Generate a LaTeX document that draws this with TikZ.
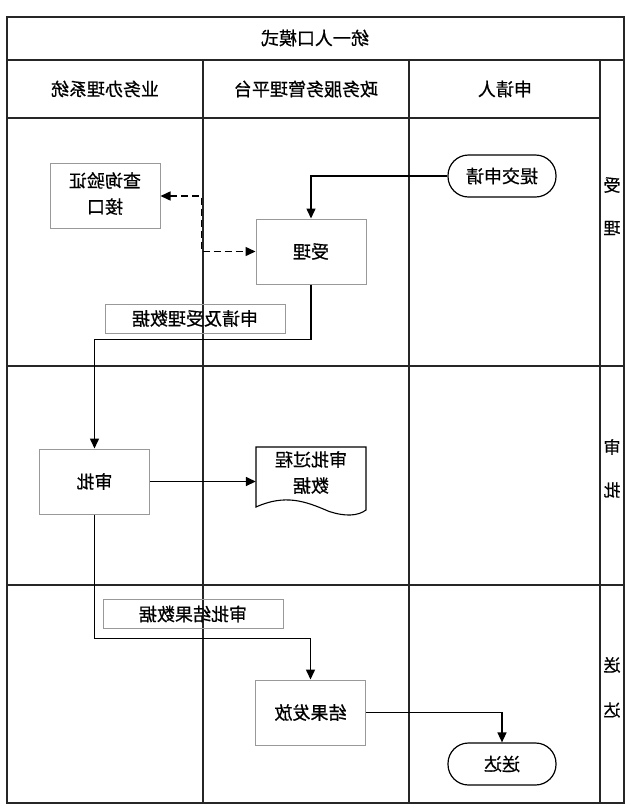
\documentclass[tikz,border=0pt]{standalone}
\usepackage{fontspec}
\usepackage{graphicx}
\newfontfamily\cjk[FakeBold=0.6]{Noto Sans CJK SC}
\usetikzlibrary{arrows.meta}
\newcommand{\mir}[1]{\reflectbox{#1}}
\begin{document}
\begin{tikzpicture}[x=1pt,y=-1pt,
 every node/.style={font=\cjk\fontsize{18}{22}\selectfont, inner sep=0pt},
 box/.style={draw=gray!80, line width=1pt, minimum width=110pt, minimum height=65pt},
 lbl/.style={draw=gray!80, line width=1pt, minimum width=180pt, minimum height=29pt},
 term/.style={draw=black, line width=1.2pt, rounded corners=20.5pt, minimum width=108pt, minimum height=42pt},
 frame/.style={draw=black!85, line width=1.6pt},
 conn/.style={draw=black, line width=1.5pt, -{Triangle[length=10pt,width=9pt]}},
 phase/.style={font=\cjk\fontsize{17}{20}\selectfont},
]
\path[use as bounding box] (0,0) rectangle (630,812);
% frame and lanes
\draw[frame] (7,17) rectangle (624,803);
\draw[frame] (7,60) -- (624,60);
\draw[frame] (7,118) -- (600,118);
\draw[frame] (203,60) -- (203,803);
\draw[frame] (409,60) -- (409,803);
\draw[frame] (600,60) -- (600,803);
\draw[frame] (7,366) -- (624,366);
\draw[frame] (7,585) -- (624,585);
% titles
\node (title) at (315,38) {\mir{统一人口模式}};
\node (h1) at (105,89) {\mir{业务办理系统}};
\node (h2) at (306,89) {\mir{政务服务管理平台}};
\node (h3) at (505,89) {\mir{申请人}};
\node[phase] (p1a) at (612,185) {\mir{受}};
\node[phase] (p1b) at (612,228) {\mir{理}};
\node[phase] (p2a) at (612,447) {\mir{审}};
\node[phase] (p2b) at (612,490) {\mir{批}};
\node[phase] (p3a) at (612,665) {\mir{送}};
\node[phase] (p3b) at (612,710) {\mir{达}};
% nodes
\node[term] (tj) at (502,176) {\mir{提交申请}};
\node[box] (cx) at (105,196) {\mir{\begin{tabular}{@{}c@{}}查询验证\\[4pt]接口\end{tabular}}};
\node[box] (sl) at (311,251.5) {\mir{受理}};
\node[lbl] (l1) at (195,318.5) {\mir{申请及受理数据}};
\node[box] (sp) at (94.5,481.5) {\mir{审批}};
\draw[black, line width=1.1pt] (256,447) -- (366,447) -- (366,510)
  .. controls (358,516) and (345,517) .. (328,511)
  .. controls (305,501) and (285,494) .. (256,507) -- cycle;
\node[minimum width=110pt, minimum height=63pt] (doc) at (311,475) {\mir{\begin{tabular}{@{}c@{}}审批过程\\[4pt]数据\end{tabular}}};
\node[lbl] (l2) at (193,614) {\mir{审批结果数据}};
\node[box] (ff) at (310.5,712.5) {\mir{结果发放}};
\node[term] (sd) at (502,764) {\mir{送达}};
% connectors
\draw[conn] (tj.west) -| (sl.north);
\draw[conn, {Triangle[length=10pt,width=9pt]}-{Triangle[length=10pt,width=9pt]}, dash pattern=on 7pt off 4pt] (cx.east) -- ++(41,0) |- (sl.west);
\draw[conn] (sl.south) -- ++(0,55) -| (sp.north);
\draw[conn] (sp.east) -- (sp.east -| doc.west);
\draw[conn] (sp.south) -- ++(0,124) -| (ff.north);
\draw[conn] (ff.east) -| (sd.north);
\end{tikzpicture}
\end{document}
